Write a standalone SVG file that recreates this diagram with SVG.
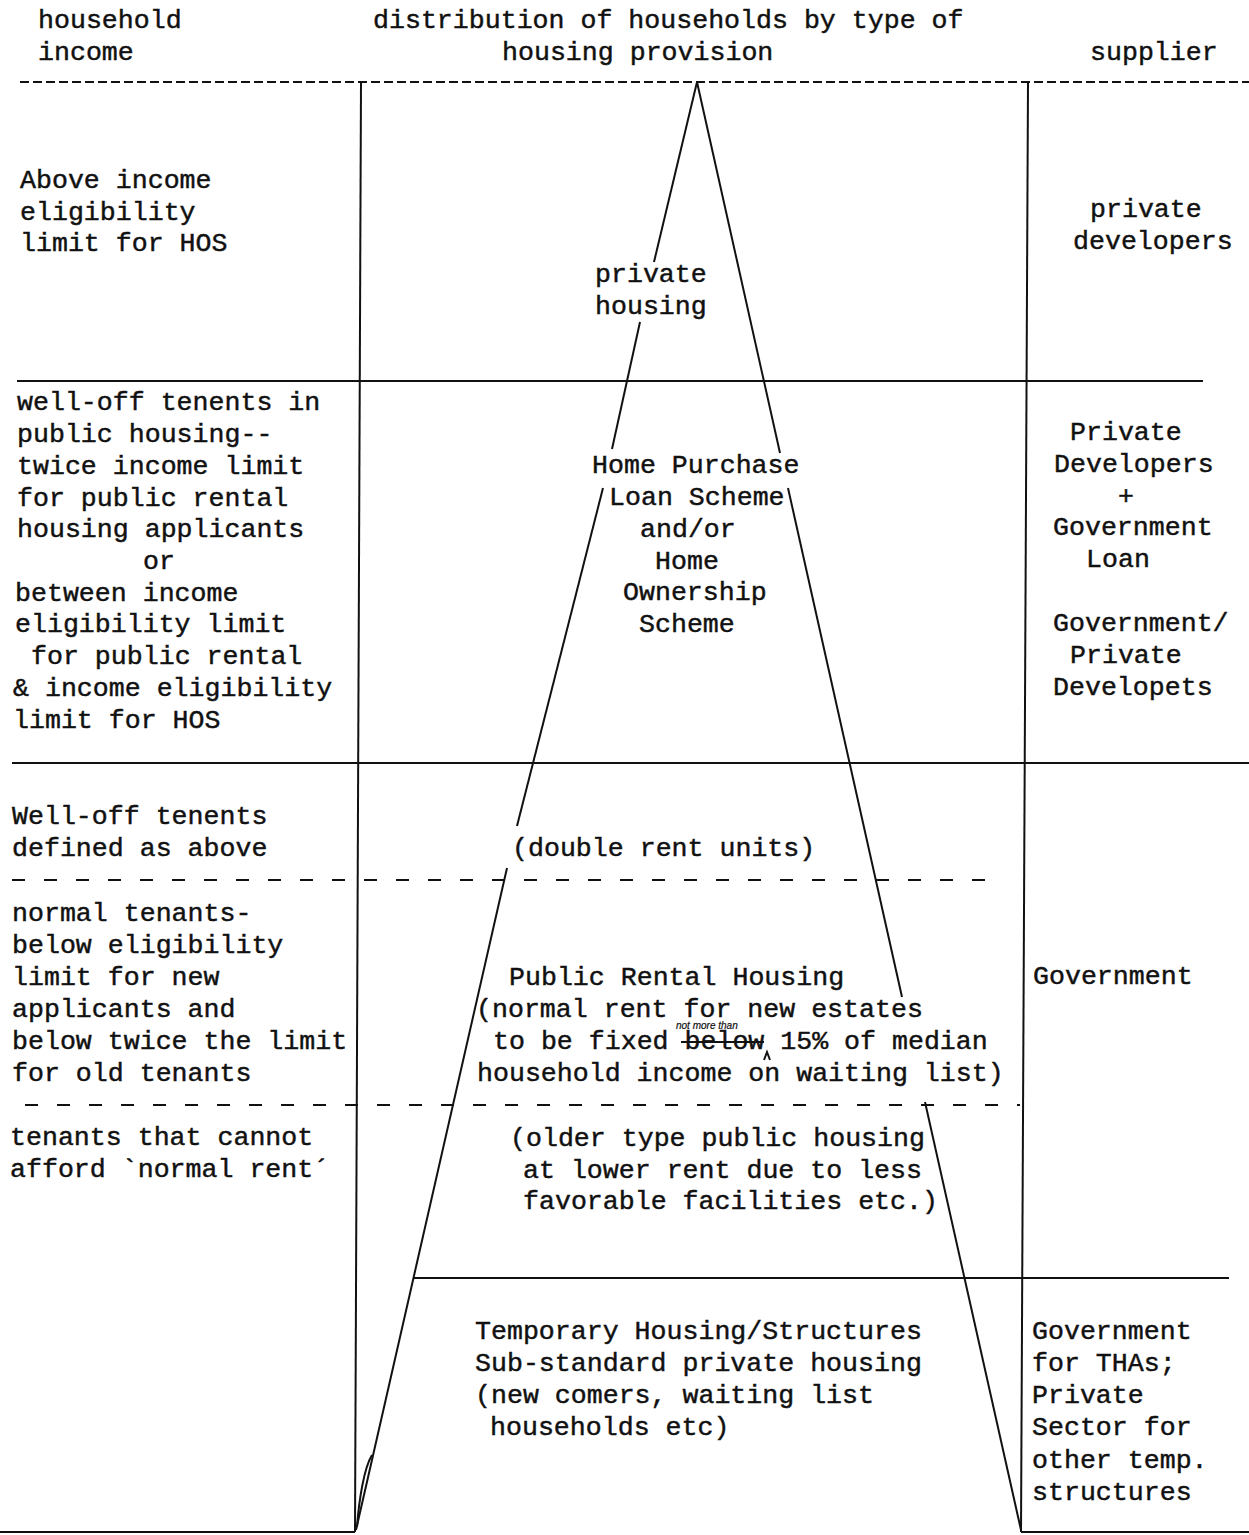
<svg xmlns="http://www.w3.org/2000/svg" width="1249" height="1535" viewBox="0 0 1249 1535">
<style>
  text { font-family: "Liberation Mono", "Courier New", monospace; font-size: 26.6px; fill: #111; stroke: #111; stroke-width: 0.45; }
  .ln { stroke: #111; stroke-width: 2; fill: none; }
  .dtop { stroke: #111; stroke-width: 2.2; stroke-dasharray: 9 4; fill: none; }
  .dmid { stroke: #111; stroke-width: 2.2; stroke-dasharray: 13 19; fill: none; }
  .hand { font-family: "Liberation Sans", Arial, sans-serif; font-size: 10px; font-style: italic; stroke-width: 0.2; }
</style>
<rect width="1249" height="1535" fill="#fff"/>

<g id="connectors">
  <line class="dtop" x1="20" y1="82" x2="1249" y2="82"/>
  <line class="ln" x1="361" y1="82" x2="355" y2="1532"/>
  <line class="ln" x1="1028" y1="82" x2="1021" y2="1532"/>
  <line class="ln" x1="17" y1="381" x2="1203" y2="381"/>
  <line class="ln" x1="12" y1="763" x2="1249" y2="763"/>
  <line class="dmid" x1="12" y1="880" x2="990" y2="880"/>
  <line class="dmid" x1="25" y1="1105" x2="1020" y2="1105"/>
  <line class="ln" x1="413" y1="1278" x2="1229" y2="1278"/>
  <line class="ln" x1="0" y1="1532" x2="355" y2="1532"/>
  <line class="ln" x1="1021" y1="1532" x2="1249" y2="1532"/>
  <line class="ln" x1="697" y1="82" x2="654" y2="262"/>
  <line class="ln" x1="640" y1="322" x2="612" y2="449"/>
  <line class="ln" x1="603" y1="488" x2="517" y2="826"/>
  <line class="ln" x1="507" y1="868" x2="356" y2="1530"/>
  <path class="ln" d="M372,1455 C364,1468 359,1500 357,1527"/>
  <line class="ln" x1="697" y1="82" x2="780" y2="453"/>
  <line class="ln" x1="788" y1="488" x2="902" y2="997"/>
  <line class="ln" x1="925" y1="1102" x2="1021" y2="1530"/>
</g>

<g id="header">
  <text x="38" y="28">household</text>
  <text x="38" y="60">income</text>
  <text x="373" y="28">distribution of households by type of</text>
  <text x="502" y="60">housing provision</text>
  <text x="1090" y="60">supplier</text>
</g>

<g id="row-private">
  <text x="20" y="188">Above income</text>
  <text x="20" y="220">eligibility</text>
  <text x="20" y="251">limit for HOS</text>
  <text x="595" y="282">private</text>
  <text x="595" y="314">housing</text>
  <text x="1090" y="217">private</text>
  <text x="1073" y="249">developers</text>
</g>

<g id="row-hos">
  <text x="17" y="410">well-off tenents in</text>
  <text x="17" y="442">public housing--</text>
  <text x="17" y="474">twice income limit</text>
  <text x="17" y="506">for public rental</text>
  <text x="17" y="537">housing applicants</text>
  <text x="143" y="569">or</text>
  <text x="15" y="601">between income</text>
  <text x="15" y="632">eligibility limit</text>
  <text x="31" y="664">for public rental</text>
  <text x="13" y="696">&amp; income eligibility</text>
  <text x="13" y="728">limit for HOS</text>
  <text x="592" y="473">Home Purchase</text>
  <text x="609" y="505">Loan Scheme</text>
  <text x="640" y="537">and/or</text>
  <text x="655" y="569">Home</text>
  <text x="623" y="600">Ownership</text>
  <text x="639" y="632">Scheme</text>
  <text x="1070" y="440">Private</text>
  <text x="1054" y="472">Developers</text>
  <text x="1118" y="504">+</text>
  <text x="1053" y="535">Government</text>
  <text x="1086" y="567">Loan</text>
  <text x="1053" y="631">Government/</text>
  <text x="1070" y="663">Private</text>
  <text x="1053" y="695">Developets</text>
</g>

<g id="row-double">
  <text x="12" y="824">Well-off tenents</text>
  <text x="12" y="856">defined as above</text>
  <text x="512" y="856">(double rent units)</text>
</g>

<g id="row-public-rental">
  <text x="12" y="921">normal tenants-</text>
  <text x="12" y="953">below eligibility</text>
  <text x="12" y="985">limit for new</text>
  <text x="12" y="1017">applicants and</text>
  <text x="12" y="1049">below twice the limit</text>
  <text x="12" y="1081">for old tenants</text>
  <text x="509" y="985">Public Rental Housing</text>
  <text x="476" y="1017">(normal rent for new estates</text>
  <text x="493" y="1049">to be fixed below 15% of median</text>
  <text x="477" y="1081">household income on waiting list)</text>
  <text class="hand" x="676" y="1029">not more than</text>
  <line class="ln" x1="681" y1="1042" x2="764" y2="1042" stroke-width="1.6"/>
  <path class="ln" d="M764,1060 L767,1052 L770,1060" stroke-width="1.2"/>
  <text x="1033" y="984">Government</text>
</g>

<g id="row-older">
  <text x="10" y="1145">tenants that cannot</text>
  <text x="10" y="1177">afford `normal rent´</text>
  <text x="510" y="1146">(older type public housing</text>
  <text x="523" y="1178">at lower rent due to less</text>
  <text x="523" y="1209">favorable facilities etc.)</text>
</g>

<g id="row-temporary">
  <text x="475" y="1339">Temporary Housing/Structures</text>
  <text x="475" y="1371">Sub-standard private housing</text>
  <text x="475" y="1403">(new comers, waiting list</text>
  <text x="490" y="1435">households etc)</text>
  <text x="1032" y="1339">Government</text>
  <text x="1032" y="1371">for THAs;</text>
  <text x="1032" y="1403">Private</text>
  <text x="1032" y="1435">Sector for</text>
  <text x="1032" y="1468">other temp.</text>
  <text x="1032" y="1500">structures</text>
</g>
</svg>
